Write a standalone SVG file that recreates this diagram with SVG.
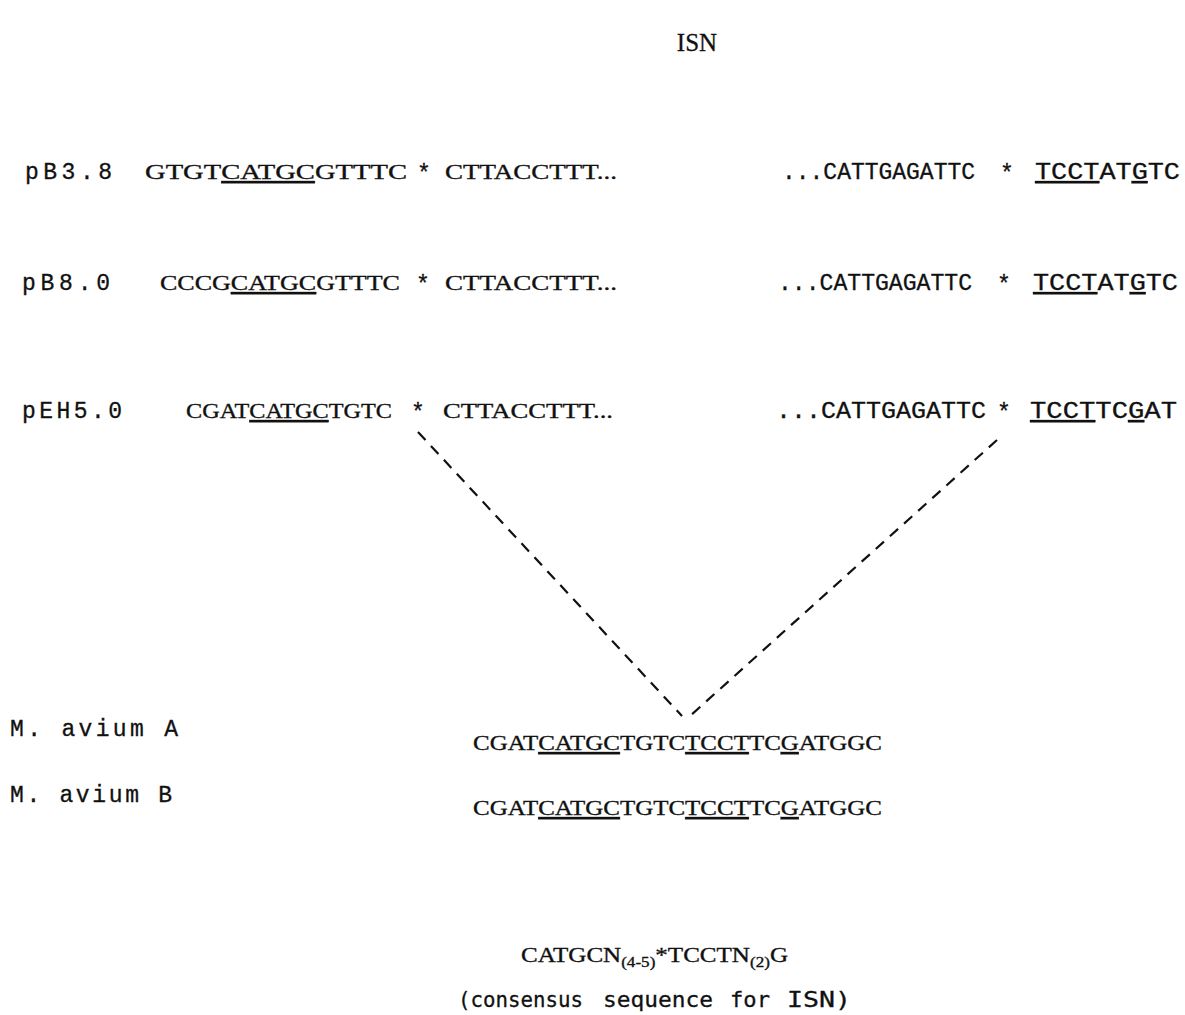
<svg xmlns="http://www.w3.org/2000/svg" width="1185" height="1015" viewBox="0 0 1185 1015">
<style>
.lbl{font-family:"Liberation Mono","Courier New",monospace;font-size:23px;fill:#111;stroke:#111;stroke-width:0.3}
.seq{font-family:"Liberation Serif","Times New Roman",serif;font-size:22px;fill:#111;stroke:#111;stroke-width:0.35}
.mono{font-family:"Liberation Mono","Courier New",monospace;font-size:23px;fill:#111;stroke:#111;stroke-width:0.3}
.ttl{font-family:"Liberation Serif","Times New Roman",serif;font-size:25px;fill:#111;stroke:#111;stroke-width:0.3}
.cons{font-family:"DejaVu Sans Mono","Liberation Mono",monospace;font-size:22px;fill:#111;stroke:#111;stroke-width:0.3}
.sub{font-size:15px}
.u{text-decoration:underline}
.dash{stroke:#111;stroke-width:2.2;stroke-dasharray:11 8;fill:none}
</style>
<rect width="1185" height="1015" fill="#fff"/>
<g id="title"><text class="ttl" x="697" y="51" text-anchor="middle">ISN</text></g>

<g id="row-pB3.8">
<text class="lbl" x="25" y="179" textLength="87" lengthAdjust="spacing">pB3.8</text>
<text class="seq" x="145" y="179" textLength="262" lengthAdjust="spacingAndGlyphs">GTGT<tspan class="u">CATGC</tspan>GTTTC</text>
<text class="mono" x="417" y="181">*</text>
<text class="seq" x="445" y="179" textLength="172" lengthAdjust="spacingAndGlyphs">CTTACCTTT...</text>
<text class="mono" x="782" y="179" textLength="193" lengthAdjust="spacingAndGlyphs">...CATTGAGATTC</text>
<text class="mono" x="1000" y="181">*</text>
<text class="mono" x="1035" y="179" textLength="145" lengthAdjust="spacingAndGlyphs"><tspan class="u">TCCT</tspan>AT<tspan class="u">G</tspan>TC</text>
</g>

<g id="row-pB8.0">
<text class="lbl" x="22" y="290" textLength="88" lengthAdjust="spacing">pB8.0</text>
<text class="seq" x="160" y="290" textLength="240" lengthAdjust="spacingAndGlyphs">CCCG<tspan class="u">CATGC</tspan>GTTTC</text>
<text class="mono" x="416" y="292">*</text>
<text class="seq" x="445" y="290" textLength="172" lengthAdjust="spacingAndGlyphs">CTTACCTTT...</text>
<text class="mono" x="778" y="290" textLength="194" lengthAdjust="spacingAndGlyphs">...CATTGAGATTC</text>
<text class="mono" x="997" y="292">*</text>
<text class="mono" x="1033" y="290" textLength="145" lengthAdjust="spacingAndGlyphs"><tspan class="u">TCCT</tspan>AT<tspan class="u">G</tspan>TC</text>
</g>

<g id="row-pEH5.0">
<text class="lbl" x="22" y="418" textLength="100" lengthAdjust="spacing">pEH5.0</text>
<text class="seq" x="186" y="418" textLength="206" lengthAdjust="spacingAndGlyphs">CGAT<tspan class="u">CATGC</tspan>TGTC</text>
<text class="mono" x="411" y="420">*</text>
<text class="seq" x="443" y="418" textLength="170" lengthAdjust="spacingAndGlyphs">CTTACCTTT...</text>
<text class="mono" x="776" y="418" textLength="210" lengthAdjust="spacingAndGlyphs">...CATTGAGATTC</text>
<text class="mono" x="997" y="420">*</text>
<text class="mono" x="1030" y="418" textLength="147" lengthAdjust="spacingAndGlyphs"><tspan class="u">TCCT</tspan>TC<tspan class="u">G</tspan>AT</text>
</g>

<g id="connectors">
<line class="dash" x1="418" y1="432" x2="682" y2="716"/>
<line class="dash" x1="997" y1="440" x2="690" y2="716"/>
</g>

<g id="mavium-A">
<text class="lbl" x="10" y="736" textLength="168" lengthAdjust="spacing">M. avium A</text>
<text class="seq" x="473" y="750" textLength="409" lengthAdjust="spacingAndGlyphs">CGAT<tspan class="u">CATGC</tspan>TGTC<tspan class="u">TCCT</tspan>TC<tspan class="u">G</tspan>ATGGC</text>
</g>

<g id="mavium-B">
<text class="lbl" x="10" y="802" textLength="162" lengthAdjust="spacing">M. avium B</text>
<text class="seq" x="473" y="815" textLength="409" lengthAdjust="spacingAndGlyphs">CGAT<tspan class="u">CATGC</tspan>TGTC<tspan class="u">TCCT</tspan>TC<tspan class="u">G</tspan>ATGGC</text>
</g>

<g id="consensus">
<text class="seq" x="521" y="962" textLength="267" lengthAdjust="spacingAndGlyphs" style="font-size:22px">CATGCN<tspan class="sub" dy="5">(4-5)</tspan><tspan dy="-5">*TCCTN</tspan><tspan class="sub" dy="5">(2)</tspan><tspan dy="-5">G</tspan></text>
<text class="cons" x="458" y="1007" textLength="125" lengthAdjust="spacingAndGlyphs">(consensus</text>
<text class="cons" x="603" y="1007" textLength="110" lengthAdjust="spacingAndGlyphs">sequence</text>
<text class="cons" x="730" y="1007" textLength="40" lengthAdjust="spacingAndGlyphs">for</text>
<text class="cons" x="787" y="1007" textLength="64" lengthAdjust="spacingAndGlyphs">ISN)</text>
</g>
</svg>
